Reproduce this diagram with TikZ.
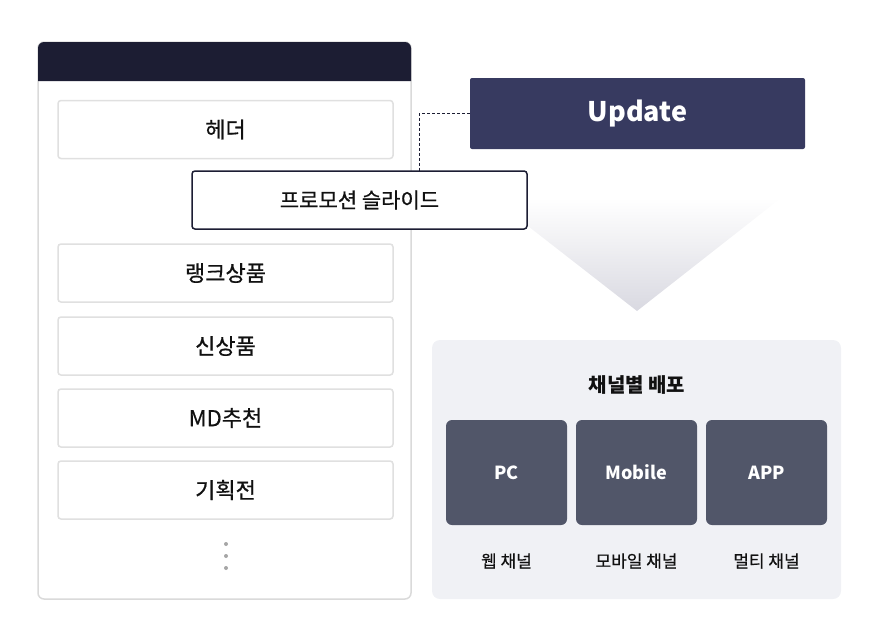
\documentclass[tikz,border=0pt]{standalone}
\usepackage{fontspec}
\setmainfont{Noto Sans CJK KR}
\newfontfamily\medfont[FakeBold=0.6]{Noto Sans CJK KR}
\definecolor{navy}{HTML}{1C1D33}
\definecolor{upd}{HTML}{373A60}
\definecolor{panelborder}{HTML}{DADADA}
\definecolor{itemborder}{HTML}{E0E0E0}
\definecolor{rpanel}{HTML}{F0F1F5}
\definecolor{chbox}{HTML}{515669}
\definecolor{tri}{HTML}{D9D9E1}
\definecolor{txt}{HTML}{111111}
\tikzset{
  item/.style={draw=itemborder, line width=1.5pt, fill=white, rounded corners=3pt,
    minimum width=335pt, minimum height=58pt, inner sep=0pt,
    font=\medfont\fontsize{22}{26}\selectfont, text=txt},
  promo/.style={draw=navy, line width=1.5pt, fill=white, rounded corners=3pt,
    minimum width=335pt, minimum height=58pt, inner sep=0pt,
    font=\medfont\fontsize{21}{25}\selectfont, text=txt},
  updbox/.style={fill=upd, rounded corners=2pt, minimum width=335pt, minimum height=71pt,
    inner sep=0pt, text=white, font=\bfseries\fontsize{27}{32}\selectfont},
  chan/.style={fill=chbox, rounded corners=6pt, minimum width=121pt, minimum height=105pt,
    inner sep=0pt, text=white, font=\bfseries\fontsize{18}{22}\selectfont},
  chlabel/.style={font=\medfont\fontsize{17}{20}\selectfont, text=txt, inner sep=0pt},
  dot/.style={circle, fill=gray!70, inner sep=0pt, minimum size=4pt},
}
\begin{document}
\begin{tikzpicture}[x=1pt,y=-1pt]
\useasboundingbox (0,0) rectangle (880,640);
% left panel
\draw[panelborder, line width=1.5pt, fill=white, rounded corners=6pt] (38,42) rectangle (411,599);
\fill[navy] (38,81) [rounded corners=6pt] -- (38,42) -- (411,42) [sharp corners] -- (411,81) -- cycle;
\node[item] (header) at (225.5,129.5) {헤더};
\node[item] (rank) at (225.5,273) {랭크상품};
\node[item] (new) at (225.5,346) {신상품};
\node[item] (md) at (225.5,418) {MD추천};
\node[item] (plan) at (225.5,490) {기획전};
\node[dot] (d1) at (226,544) {};
\node[dot] (d2) at (226,556) {};
\node[dot] (d3) at (226,568) {};
% triangle
\shade[top color=white, bottom color=tri] (492,198) -- (781,198) -- (637,311) -- cycle;
% update
\node[updbox] (upd) at (637.5,113.5) {Update};
% promo
\node[promo] (promo) at (359.5,200) {프로모션 슬라이드};
\coordinate (dj) at (419,171);
\draw[navy, line width=0.8pt, dash pattern=on 3pt off 2pt] (upd.west) -| (dj);
% right panel
\fill[rpanel, rounded corners=8pt] (432,340) rectangle (841,599);
\node[font=\bfseries\fontsize{20}{24}\selectfont, text=txt] (title) at (637,385) {채널별 배포};
\node[chan] (pc) at (506.5,472.5) {PC};
\node[chan] (mob) at (636.5,472.5) {Mobile};
\node[chan] (app) at (766.5,472.5) {APP};
\node[chlabel] (l1) at (506.5,561) {웹 채널};
\node[chlabel] (l2) at (636.5,561) {모바일 채널};
\node[chlabel] (l3) at (766.5,561) {멀티 채널};
\end{tikzpicture}
\end{document}
